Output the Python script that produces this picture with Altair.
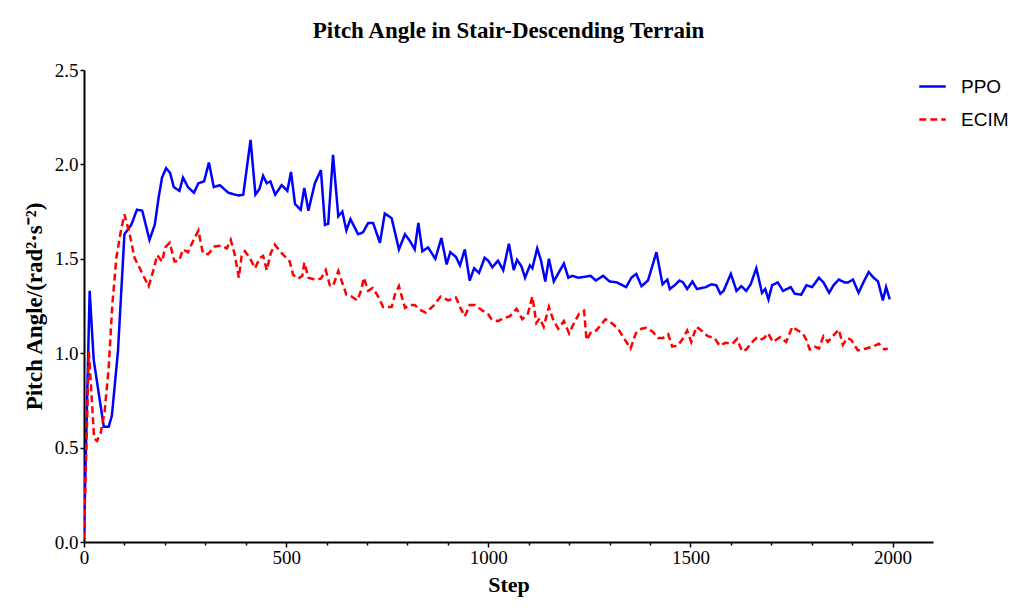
import altair as alt
import pandas as pd

ppo_steps = [0, 14, 24, 49, 61, 69, 84, 100, 117, 131, 144, 162, 175, 185, 193, 203, 213, 222, 236, 245,
             257, 272, 283, 297, 309, 321, 336, 357, 373, 383, 394, 412, 424, 434, 443, 452, 461, 473, 489, 503,
             512, 522, 536, 545, 555, 571, 586, 596, 604, 616, 629, 639, 649, 659, 678, 690, 703, 715, 732, 744,
             761, 779, 794, 806, 818, 827, 837, 851, 869, 884, 897, 906, 920, 930, 942, 954, 965, 977, 991, 1000,
             1010, 1024, 1037, 1051, 1063, 1071, 1082, 1091, 1103, 1109, 1121, 1130, 1141, 1150, 1162, 1175, 1187, 1198, 1208, 1222,
             1239, 1253, 1266, 1284, 1300, 1318, 1341, 1354, 1366, 1379, 1395, 1416, 1431, 1443, 1449, 1461, 1473, 1482, 1492, 1505,
             1516, 1538, 1552, 1564, 1574, 1582, 1600, 1614, 1626, 1638, 1649, 1663, 1677, 1685, 1693, 1702, 1716, 1729, 1748, 1758,
             1774, 1787, 1801, 1818, 1829, 1843, 1854, 1867, 1881, 1890, 1902, 1916, 1929, 1941, 1953, 1964, 1976, 1984, 1993]
ppo_values = [0.05, 1.33, 0.965, 0.61, 0.61, 0.67, 1.01, 1.63, 1.68, 1.76, 1.755, 1.60, 1.68, 1.83, 1.93, 1.98, 1.955, 1.88, 1.86, 1.93,
              1.88, 1.85, 1.90, 1.91, 2.01, 1.88, 1.89, 1.85, 1.84, 1.835, 1.84, 2.13, 1.84, 1.87, 1.94, 1.90, 1.91, 1.84, 1.89, 1.86,
              1.96, 1.79, 1.76, 1.875, 1.755, 1.90, 1.97, 1.68, 1.685, 2.05, 1.725, 1.75, 1.65, 1.71, 1.63, 1.64, 1.69, 1.69, 1.585, 1.74,
              1.715, 1.55, 1.63, 1.595, 1.55, 1.69, 1.54, 1.56, 1.50, 1.61, 1.47, 1.535, 1.51, 1.465, 1.55, 1.385, 1.45, 1.425, 1.505, 1.49,
              1.455, 1.49, 1.44, 1.58, 1.44, 1.495, 1.46, 1.40, 1.465, 1.45, 1.555, 1.495, 1.38, 1.50, 1.38, 1.43, 1.475, 1.40, 1.41, 1.40,
              1.405, 1.41, 1.385, 1.41, 1.38, 1.375, 1.35, 1.40, 1.42, 1.355, 1.385, 1.535, 1.365, 1.39, 1.34, 1.36, 1.385, 1.375, 1.34, 1.38,
              1.34, 1.35, 1.365, 1.36, 1.315, 1.33, 1.42, 1.33, 1.355, 1.33, 1.365, 1.45, 1.32, 1.34, 1.285, 1.36, 1.375, 1.33, 1.35, 1.315,
              1.31, 1.36, 1.35, 1.40, 1.375, 1.32, 1.36, 1.39, 1.375, 1.375, 1.39, 1.32, 1.38, 1.43, 1.40, 1.38, 1.28, 1.35, 1.285]

ecim_steps = [0, 12, 18, 25, 32, 41, 51, 61, 70, 80, 91, 100, 113, 125, 138, 148, 160, 171, 181, 193,
              201, 212, 224, 235, 245, 257, 269, 283, 294, 307, 323, 340, 353, 363, 372, 383, 390, 398, 410, 423,
              435, 443, 452, 462, 472, 489, 509, 517, 530, 540, 545, 555, 571, 586, 598, 608, 616, 629, 641, 649,
              662, 676, 686, 692, 703, 714, 725, 740, 761, 769, 779, 794, 806, 818, 831, 845, 864, 882, 901, 920,
              931, 942, 954, 967, 986, 1000, 1008, 1024, 1037, 1053, 1070, 1084, 1098, 1109, 1119, 1127, 1137, 1150, 1160, 1173,
              1187, 1200, 1212, 1225, 1237, 1243, 1255, 1267, 1290, 1305, 1321, 1337, 1352, 1365, 1379, 1391, 1406, 1420, 1432, 1445,
              1455, 1469, 1482, 1492, 1502, 1515, 1530, 1543, 1560, 1572, 1587, 1604, 1615, 1628, 1638, 1651, 1663, 1671, 1682, 1692,
              1704, 1722, 1737, 1752, 1766, 1778, 1787, 1795, 1807, 1818, 1829, 1840, 1852, 1867, 1877, 1888, 1898, 1914, 1935, 1951,
              1966, 1980, 1988]
ecim_values = [0.02, 1.01, 0.80, 0.55, 0.535, 0.575, 0.69, 0.92, 1.255, 1.505, 1.645, 1.735, 1.63, 1.505, 1.45, 1.405, 1.355, 1.435, 1.52, 1.485,
               1.56, 1.585, 1.485, 1.49, 1.55, 1.535, 1.59, 1.65, 1.53, 1.525, 1.565, 1.57, 1.555, 1.60, 1.53, 1.40, 1.515, 1.54, 1.505, 1.45,
               1.505, 1.515, 1.44, 1.53, 1.575, 1.53, 1.485, 1.415, 1.395, 1.41, 1.48, 1.40, 1.39, 1.395, 1.44, 1.36, 1.355, 1.435, 1.36, 1.31,
               1.30, 1.28, 1.335, 1.40, 1.33, 1.345, 1.31, 1.245, 1.245, 1.31, 1.355, 1.24, 1.255, 1.255, 1.23, 1.215, 1.25, 1.30, 1.28, 1.295,
               1.24, 1.195, 1.255, 1.255, 1.225, 1.205, 1.18, 1.17, 1.185, 1.195, 1.235, 1.18, 1.21, 1.30, 1.16, 1.185, 1.14, 1.245, 1.18, 1.13,
               1.17, 1.105, 1.16, 1.21, 1.225, 1.07, 1.115, 1.12, 1.18, 1.16, 1.13, 1.075, 1.025, 1.105, 1.13, 1.135, 1.115, 1.08, 1.08, 1.10,
               1.035, 1.04, 1.08, 1.12, 1.06, 1.14, 1.115, 1.09, 1.08, 1.04, 1.055, 1.05, 1.075, 1.01, 1.02, 1.055, 1.08, 1.07, 1.08, 1.105,
               1.06, 1.085, 1.06, 1.14, 1.12, 1.105, 1.07, 1.02, 1.035, 1.025, 1.09, 1.06, 1.09, 1.125, 1.045, 1.08, 1.07, 1.015, 1.025, 1.035,
               1.05, 1.02, 1.025]

series_names = ["PPO", "ECIM"]
series_colors = ["#0000ff", "#ff0000"]

df = pd.concat([
    pd.DataFrame({"Step": ppo_steps, "Value": ppo_values, "Series": "PPO"}),
    pd.DataFrame({"Step": ecim_steps, "Value": ecim_values, "Series": "ECIM"}),
], ignore_index=True)

serif = "Liberation Serif"

chart = alt.Chart(df).mark_line(strokeWidth=2.5, clip=True).encode(
    x=alt.X("Step:Q",
            scale=alt.Scale(domain=[0, 2100], nice=False, zero=False),
            axis=alt.Axis(title="Step", values=list(range(0, 2001, 100)), format="d",
                          labelExpr="datum.value % 500 == 0 ? datum.label : ''",
                          tickSize={"condition": {"test": "datum.value % 500 == 0", "value": 5}, "value": 3},
                          labelPadding=1, titlePadding=7, labelFlush=False)),
    y=alt.Y("Value:Q",
            scale=alt.Scale(domain=[0, 2.5], nice=False),
            axis=alt.Axis(title="Pitch Angle/(rad²·s⁻²)", values=[0, 0.5, 1.0, 1.5, 2.0, 2.5],
                          format=".1f", tickSize=4, labelPadding=2, titlePadding=8, labelFlush=False,
                          titleFontSize=23)),
    color=alt.Color("Series:N",
                    scale=alt.Scale(domain=series_names, range=series_colors),
                    sort=series_names,
                    legend=alt.Legend(title=None, orient="none", legendX=834, legendY=2,
                                      symbolType="stroke", symbolSize=700, symbolStrokeWidth=2.5,
                                      labelFont="Liberation Sans", labelFontSize=19, labelOffset=14,
                                      rowPadding=8, labelColor="black")),
    strokeDash=alt.StrokeDash("Series:N",
                              scale=alt.Scale(domain=series_names, range=[[1, 0], [7, 4]]),
                              sort=series_names, legend=None),
    detail="Series:N",
    order="Step:Q",
).properties(
    width=849,
    height=472,
    background="white",
    title=alt.TitleParams("Pitch Angle in Stair-Descending Terrain", font=serif, fontSize=23,
                          fontWeight="bold", color="black", offset=18, anchor="middle"),
    autosize=alt.AutoSizeParams(type="none"),
    padding={"left": 76, "top": 62, "right": 84, "bottom": 60},
).configure_view(stroke=None).configure_axis(
    grid=False,
    domainColor="black",
    domainWidth=2,
    tickColor="black",
    tickWidth=1.5,
    labelFont=serif,
    labelFontSize=19,
    labelColor="black",
    titleFont=serif,
    titleFontSize=22,
    titleFontWeight="bold",
    titleColor="black",
)

chart.save("out.html", embed_options={"renderer": "svg", "actions": False})
